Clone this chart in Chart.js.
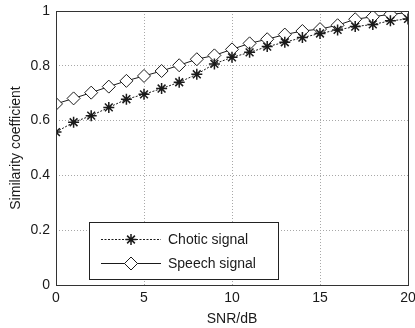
<!DOCTYPE html>
<html>
<head>
<meta charset="utf-8">
<script src="https://cdn.jsdelivr.net/npm/chart.js"></script>
<style>
  html, body { margin: 0; padding: 0; background: #fff; }
  #wrap { width: 415px; height: 328px; position: relative; }
</style>
</head>
<body>
<div id="wrap"><canvas id="chart"></canvas></div>
<script>
const snr = [0,1,2,3,4,5,6,7,8,9,10,11,12,13,14,15,16,17,18,19,20];
const chotic = [0.558,0.594,0.618,0.648,0.678,0.696,0.717,0.740,0.769,0.807,0.831,
                0.849,0.870,0.886,0.903,0.918,0.931,0.943,0.951,0.964,0.971];
const speech = [0.661,0.681,0.702,0.724,0.745,0.763,0.781,0.802,0.824,0.838,0.860,
                0.882,0.897,0.914,0.927,0.934,0.948,0.970,0.979,0.988,0.994];
const seriesNames = ["Chotic signal", "Speech signal"];

const FONT = "'Liberation Sans', Arial, sans-serif";
const INK = "#1a1a1a";

function toPoints(ys) {
    return snr.map((x, i) => ({ x: x, y: ys[i] }));
}

// box around plot area + legend inside it (matlab style)
const frameAndLegend = {
    id: "frameAndLegend",
    afterDraw(chart) {
        const ctx = chart.ctx;
        const a = chart.chartArea;
        ctx.save();
        ctx.strokeStyle = "#333";
        ctx.lineWidth = 1;
        ctx.setLineDash([]);
        ctx.strokeRect(Math.round(a.left) + 0.5, Math.round(a.top) + 0.5,
                       Math.round(a.right - a.left), Math.round(a.bottom - a.top));

        // legend box
        const bx = 89.5, by = 222.5, bw = 189, bh = 57;
        ctx.fillStyle = "#fff";
        ctx.fillRect(bx, by, bw, bh);
        ctx.strokeStyle = "#222";
        ctx.strokeRect(bx, by, bw, bh);

        const rows = [239, 263];
        ctx.font = "14px " + FONT;
        ctx.textBaseline = "middle";
        rows.forEach((ry, i) => {
            ctx.strokeStyle = INK;
            ctx.lineWidth = 1;
            ctx.setLineDash(i === 0 ? [2, 1.5] : []);
            ctx.beginPath();
            ctx.moveTo(101, ry + 0.5);
            ctx.lineTo(161, ry + 0.5);
            ctx.stroke();
            ctx.setLineDash([]);
            const mx = 131, my = ry + 0.5;
            if (i === 0) {
                const r = 5.5;
                ctx.lineWidth = 1.5;
                ctx.beginPath();
                ctx.moveTo(mx - r, my); ctx.lineTo(mx + r, my);
                ctx.moveTo(mx, my - r); ctx.lineTo(mx, my + r);
                const d = r * 0.707;
                ctx.moveTo(mx - d, my - d); ctx.lineTo(mx + d, my + d);
                ctx.moveTo(mx - d, my + d); ctx.lineTo(mx + d, my - d);
                ctx.stroke();
            } else {
                const r = 6.5;
                ctx.fillStyle = "#fff";
                ctx.beginPath();
                ctx.moveTo(mx, my - r); ctx.lineTo(mx + r, my);
                ctx.lineTo(mx, my + r); ctx.lineTo(mx - r, my);
                ctx.closePath();
                ctx.fill();
                ctx.stroke();
            }
            ctx.fillStyle = INK;
            ctx.fillText(seriesNames[i], 168, ry + 1);
        });
        ctx.restore();
    }
};

new Chart(document.getElementById("chart"), {
    type: "line",
    data: {
        datasets: [{
            label: seriesNames[0],
            data: toPoints(chotic),
            borderColor: INK,
            borderWidth: 1,
            borderDash: [2, 1.5],
            pointStyle: "star",
            pointRadius: 5.5,
            pointBorderWidth: 1.5,
            pointBorderColor: INK,
            backgroundColor: INK,
            tension: 0
        }, {
            label: seriesNames[1],
            data: toPoints(speech),
            borderColor: INK,
            borderWidth: 1,
            pointStyle: "rectRot",
            pointRadius: 6.5,
            pointBorderWidth: 1,
            pointBorderColor: INK,
            pointBackgroundColor: "#fff",
            tension: 0
        }]
    },
    options: {
        responsive: true,
        maintainAspectRatio: false,
        animation: false,
        layout: { autoPadding: false, padding: { top: 11, right: 7, left: 0, bottom: 0 } },
        plugins: {
            legend: { display: false },
            tooltip: { enabled: false }
        },
        scales: {
            x: {
                type: "linear",
                min: 0, max: 20,
                ticks: { stepSize: 5, color: INK, font: { family: FONT, size: 14 }, padding: 5, maxRotation: 0 },
                grid: { color: "#a8a8a8", drawTicks: false },
                border: { display: false, dash: [1, 2] },
                title: { display: true, text: "SNR/dB", color: INK, font: { family: FONT, size: 14 }, padding: { top: 2, bottom: 0 } },
                afterFit(scale) { scale.height = 43; scale.paddingRight = 0; scale.paddingLeft = 0; }
            },
            y: {
                min: 0, max: 1,
                ticks: {
                    stepSize: 0.2, color: INK, font: { family: FONT, size: 14 }, padding: 6,
                    callback: v => String(Number(v.toFixed(1)))
                },
                grid: { color: "#a8a8a8", drawTicks: false },
                border: { display: false, dash: [1, 2] },
                title: { display: true, text: "Similarity coefficient", color: INK, font: { family: FONT, size: 14 }, padding: { top: 8, bottom: 0 } },
                afterFit(scale) { scale.width = 56; scale.paddingTop = 0; scale.paddingBottom = 0; }
            }
        }
    },
    plugins: [frameAndLegend]
});
</script>
</body>
</html>
